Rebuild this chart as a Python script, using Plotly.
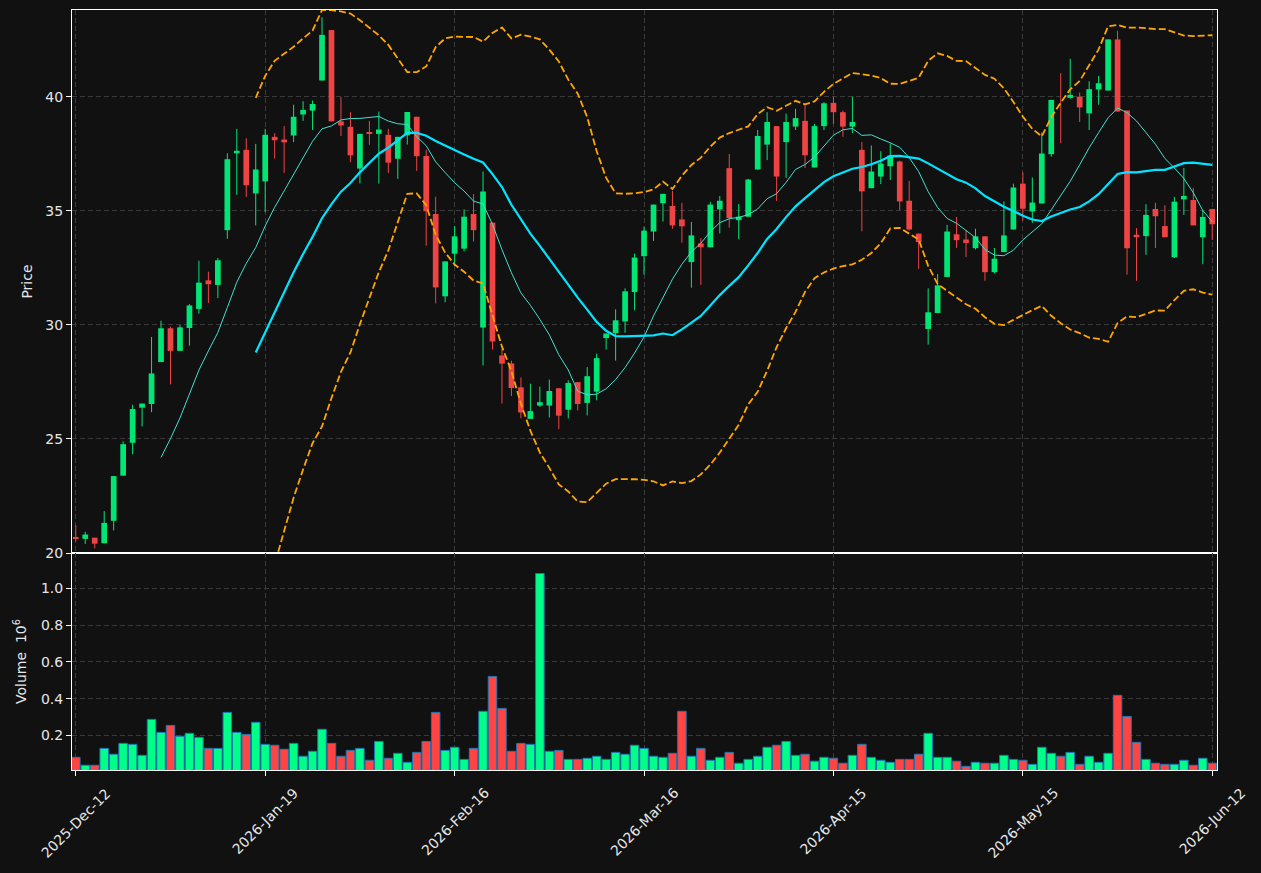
import plotly.graph_objects as go
import pandas as pd

# ---------------- data ----------------
tick_index = [0, 20, 40, 60, 80, 100, 120]
tick_labels = ["2025-Dec-12", "2026-Jan-19", "2026-Feb-16", "2026-Mar-16",
               "2026-Apr-15", "2026-May-15", "2026-Jun-12"]

opens = [20.67, 20.62, 20.67, 20.43, 21.41, 23.39, 24.83, 26.37, 26.53, 28.37,
         29.85, 28.86, 29.86, 30.70, 31.95, 31.75, 34.15, 37.52, 37.67, 35.76,
         36.29, 38.24, 38.12, 38.30, 39.22, 39.39, 40.71, 42.92, 38.92, 38.68,
         36.85, 38.42, 38.37, 38.33, 37.28, 38.31, 39.12, 37.40, 34.86, 31.25,
         33.12, 33.34, 34.86, 29.88, 34.48, 28.66, 28.31, 27.26, 25.88, 26.46,
         26.46, 27.22, 26.28, 27.49, 26.58, 27.07, 29.42, 29.64, 30.15, 31.44,
         33.01, 34.09, 35.33, 35.21, 34.62, 32.75, 33.57, 33.40, 35.06, 36.87,
         34.59, 34.74, 36.81, 37.90, 38.71, 38.01, 38.69, 38.94, 36.90, 38.71,
         39.73, 39.32, 38.69, 37.67, 35.99, 36.50, 36.95, 37.16, 35.44, 34.00,
         29.82, 30.52, 32.10, 33.97, 33.74, 33.36, 33.88, 32.31, 33.19, 34.18,
         36.19, 34.97, 35.32, 37.48, 39.90, 39.95, 40.00, 39.27, 40.32, 40.27,
         42.51, 39.39, 33.95, 33.89, 35.08, 34.33, 32.96, 35.50, 35.47, 33.84,
         35.08]
highs = [21.22, 20.93, 20.67, 21.84, 23.37, 24.89, 26.50, 26.55, 29.47, 30.18,
         29.92, 29.99, 30.91, 32.81, 32.33, 32.93, 37.52, 38.59, 38.18, 37.93,
         38.59, 38.40, 38.71, 39.65, 39.80, 39.83, 43.48, 42.92, 39.98, 39.32,
         38.37, 38.94, 39.35, 38.59, 38.24, 39.33, 39.12, 37.67, 35.62, 32.78,
         34.33, 35.06, 35.73, 36.72, 34.48, 28.94, 28.43, 27.69, 27.42, 27.29,
         27.60, 27.22, 27.57, 27.49, 28.15, 28.74, 29.62, 30.68, 31.60, 33.12,
         34.30, 35.27, 35.74, 35.87, 35.35, 34.51, 33.80, 35.39, 35.65, 37.49,
         35.30, 36.40, 38.54, 39.32, 38.71, 39.26, 39.47, 39.65, 38.81, 39.76,
         40.00, 39.39, 40.00, 38.01, 37.86, 37.61, 37.95, 37.20, 36.31, 34.00,
         31.60, 32.23, 34.38, 34.73, 34.15, 34.21, 33.88, 33.37, 35.41, 36.19,
         36.69, 36.46, 38.43, 39.86, 41.03, 41.66, 40.18, 40.68, 40.91, 42.51,
         42.89, 39.39, 34.24, 35.29, 35.35, 35.24, 35.61, 36.88, 36.00, 35.02,
         35.08]
lows = [20.50, 20.40, 20.20, 20.43, 20.99, 23.39, 24.33, 25.55, 26.17, 28.37,
        27.39, 28.86, 29.09, 30.49, 30.96, 31.17, 33.77, 35.70, 35.61, 34.36,
        34.94, 37.29, 36.66, 38.01, 38.94, 38.54, 40.71, 38.92, 38.28, 37.13,
        36.20, 37.89, 36.19, 36.66, 36.40, 37.90, 36.75, 33.47, 30.94, 30.99,
        32.58, 33.22, 33.65, 28.22, 28.92, 26.55, 26.88, 25.90, 25.88, 26.40,
        25.94, 25.43, 25.90, 26.25, 26.03, 26.69, 28.92, 28.43, 29.65, 30.64,
        32.20, 33.68, 34.53, 34.21, 33.60, 31.63, 31.75, 33.40, 34.01, 34.26,
        33.75, 34.74, 36.81, 37.22, 35.43, 36.44, 38.54, 36.87, 36.90, 38.54,
        38.81, 38.24, 38.40, 34.10, 35.99, 36.17, 36.35, 35.03, 34.13, 32.45,
        29.13, 30.52, 32.10, 33.37, 32.98, 33.30, 31.93, 32.25, 33.19, 34.18,
        34.56, 34.47, 35.32, 37.37, 37.96, 39.91, 38.89, 38.54, 39.65, 40.27,
        39.35, 32.20, 31.93, 33.07, 33.37, 33.84, 32.93, 34.82, 34.36, 32.66,
        33.72]
closes = [20.63, 20.81, 20.41, 21.32, 23.37, 24.77, 26.31, 26.55, 27.87, 29.85,
          28.86, 29.89, 30.85, 31.85, 31.78, 32.83, 37.26, 37.63, 36.12, 36.81,
          38.33, 38.09, 38.00, 39.12, 39.42, 39.68, 42.71, 38.92, 38.74, 37.43,
          38.37, 38.38, 38.56, 37.11, 38.24, 39.33, 37.39, 34.98, 31.64, 32.78,
          33.88, 34.74, 34.15, 35.84, 29.27, 28.30, 27.23, 26.16, 26.22, 26.61,
          27.10, 26.02, 27.45, 26.53, 27.75, 28.54, 29.62, 30.20, 31.47, 32.95,
          34.13, 35.27, 35.74, 34.36, 34.32, 33.92, 33.40, 35.27, 35.44, 34.68,
          34.74, 36.37, 38.28, 38.89, 36.50, 38.89, 39.06, 37.43, 38.71, 39.71,
          39.32, 38.69, 38.89, 35.85, 36.72, 37.07, 37.42, 35.41, 34.18, 33.63,
          30.55, 31.73, 34.09, 33.71, 33.59, 33.88, 32.31, 32.90, 33.92, 36.02,
          35.09, 35.36, 37.51, 39.86, 39.90, 40.08, 39.53, 40.33, 40.59, 42.51,
          39.35, 33.36, 33.84, 34.82, 34.76, 33.84, 35.40, 35.65, 34.36, 34.73,
          34.41]
volumes_m = [0.080, 0.037, 0.037, 0.129, 0.097, 0.156, 0.151, 0.091, 0.287, 0.216,
             0.254, 0.195, 0.211, 0.189, 0.129, 0.129, 0.325, 0.216, 0.205, 0.271,
             0.151, 0.146, 0.124, 0.156, 0.086, 0.113, 0.233, 0.156, 0.086, 0.118,
             0.129, 0.064, 0.167, 0.075, 0.102, 0.053, 0.107, 0.167, 0.325, 0.118,
             0.135, 0.069, 0.129, 0.331, 0.521, 0.347, 0.113, 0.156, 0.151, 1.082,
             0.113, 0.118, 0.069, 0.069, 0.075, 0.086, 0.069, 0.107, 0.097, 0.146,
             0.129, 0.086, 0.080, 0.102, 0.331, 0.086, 0.129, 0.064, 0.080, 0.107,
             0.048, 0.069, 0.086, 0.135, 0.146, 0.167, 0.091, 0.097, 0.059, 0.080,
             0.075, 0.048, 0.091, 0.151, 0.080, 0.064, 0.053, 0.069, 0.069, 0.097,
             0.211, 0.080, 0.080, 0.059, 0.031, 0.053, 0.048, 0.048, 0.091, 0.069,
             0.064, 0.042, 0.135, 0.102, 0.086, 0.107, 0.042, 0.086, 0.053, 0.102,
             0.418, 0.303, 0.162, 0.069, 0.048, 0.042, 0.042, 0.064, 0.037, 0.075,
             0.048]

# ---------------- derived ----------------
idx = list(range(len(closes)))
cs = pd.Series(closes)
ma10 = cs.rolling(10).mean()
ma20 = cs.rolling(20).mean()
sd20 = cs.rolling(20).std(ddof=0)
bb_up = ma20 + 2 * sd20
bb_lo = ma20 - 2 * sd20

UP_C = "#00e676"
DN_C = "#ef4444"
VUP_C = "#00ff88"
VDN_C = "#ff4444"
BG = "#111111"
GRID = "#3a3a3a"
FG = "#e6e6e6"

up = [i for i in idx if closes[i] > opens[i]]
dn = [i for i in idx if closes[i] <= opens[i]]


def wick_xy(ids):
    xs, ys = [], []
    for i in ids:
        xs += [i, i, None]
        ys += [lows[i], highs[i], None]
    return xs, ys


fig = go.Figure()

for ids, col in ((up, UP_C), (dn, DN_C)):
    wx, wy = wick_xy(ids)
    fig.add_trace(go.Scatter(x=wx, y=wy, mode="lines", line=dict(color=col, width=1),
                             xaxis="x", yaxis="y", showlegend=False, hoverinfo="skip"))
    fig.add_trace(go.Bar(x=ids,
                         base=[min(opens[i], closes[i]) for i in ids],
                         y=[abs(closes[i] - opens[i]) for i in ids],
                         width=0.6, marker=dict(color=col, line=dict(width=0)),
                         xaxis="x", yaxis="y", showlegend=False))

fig.add_trace(go.Scatter(x=idx, y=ma10, mode="lines", line=dict(color="#40e0d0", width=1),
                         xaxis="x", yaxis="y", showlegend=False))
fig.add_trace(go.Scatter(x=idx, y=ma20, mode="lines", line=dict(color="#00e5ff", width=2.2),
                         xaxis="x", yaxis="y", showlegend=False))
for band in (bb_up, bb_lo):
    fig.add_trace(go.Scatter(x=idx, y=band, mode="lines",
                             line=dict(color="#ffa500", width=1.8, dash="7px,3px"),
                             xaxis="x", yaxis="y", showlegend=False))

vcols = [VUP_C if closes[i] > opens[i] else VDN_C for i in idx]
fig.add_trace(go.Bar(x=idx, y=volumes_m, width=0.9,
                     marker=dict(color=vcols, line=dict(color="#1f77b4", width=1)),
                     xaxis="x2", yaxis="y2", showlegend=False))

split = (770 - 553) / 760

axis_common = dict(showline=True, mirror=True, linecolor="white", linewidth=1,
                   gridcolor=GRID, griddash="5px,3px", gridwidth=1, zeroline=False,
                   tickfont=dict(color=FG, size=14), tickcolor="white")

# rotated date labels, centred under their ticks
annotations = [
    dict(x=t, y=0, xref="x2", yref="paper", text=lab, textangle=-45,
         showarrow=False, xanchor="center", yanchor="top", yshift=-12,
         font=dict(size=14, color=FG, family="DejaVu Sans"))
    for t, lab in zip(tick_index, tick_labels)
]

fig.update_layout(
    width=1261, height=873,
    margin=dict(l=72, r=44, t=10, b=103),
    paper_bgcolor=BG, plot_bgcolor=BG,
    font=dict(family="DejaVu Sans", size=14, color=FG),
    barmode="overlay",
    showlegend=False,
    annotations=annotations,
    xaxis=dict(domain=[0, 1], anchor="y", range=[-0.4, 120.5], tickvals=tick_index,
               showticklabels=False, ticks="", **axis_common),
    xaxis2=dict(domain=[0, 1], anchor="y2", matches="x", range=[-0.4, 120.5],
                tickvals=tick_index, showticklabels=False,
                ticks="outside", ticklen=5, **axis_common),
    yaxis=dict(domain=[split, 1], anchor="x", range=[20, 43.8],
               tickvals=[20, 25, 30, 35, 40], ticks="outside", ticklen=5,
               title=dict(text="Price", font=dict(size=14, color=FG), standoff=9),
               **axis_common),
    yaxis2=dict(domain=[0, split], anchor="x2", range=[0.011, 1.194],
                tickvals=[0.2, 0.4, 0.6, 0.8, 1.0],
                ticktext=["0.2", "0.4", "0.6", "0.8", "1.0"],
                ticks="outside", ticklen=5,
                title=dict(text="Volume  10<sup>6</sup>", font=dict(size=14, color=FG), standoff=11),
                **axis_common),
)

fig.write_html("out.html")
